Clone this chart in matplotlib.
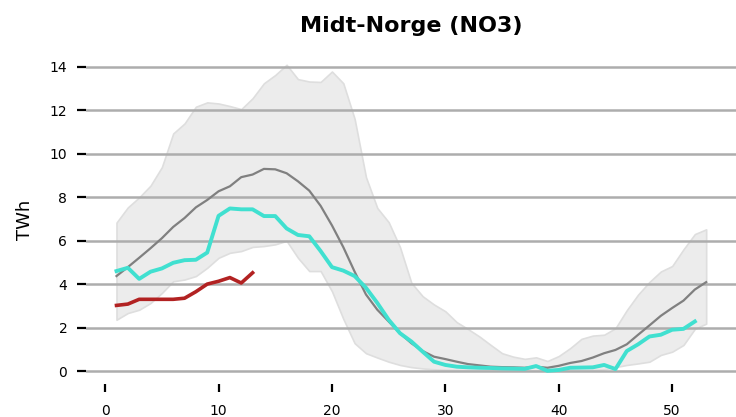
import numpy as np
import matplotlib
matplotlib.use("Agg")
import matplotlib.pyplot as plt

# week numbers
weeks = np.arange(1, 54)

# historic range (min / max) and median, TWh
band_low = [2.36, 2.67, 2.82, 3.13, 3.59, 4.13, 4.21, 4.37, 4.75, 5.21,
            5.44, 5.52, 5.71, 5.75, 5.83, 5.99, 5.21, 4.60, 4.60, 3.67,
            2.40, 1.28, 0.82, 0.62, 0.43, 0.28, 0.18, 0.12, 0.08, 0.06,
            0.05, 0.04, 0.03, 0.03, 0.02, 0.02, 0.02, 0.02, 0.02, 0.03,
            0.03, 0.04, 0.05, 0.08, 0.18, 0.28, 0.35, 0.43, 0.74, 0.89,
            1.20, 1.94, 2.18]
band_high = [6.83, 7.53, 7.99, 8.53, 9.38, 10.93, 11.39, 12.16, 12.36, 12.31,
             12.19, 12.05, 12.55, 13.24, 13.62, 14.09, 13.43, 13.32, 13.30, 13.78,
             13.24, 11.60, 8.92, 7.50, 6.85, 5.70, 4.06, 3.44, 3.06, 2.75,
             2.25, 1.93, 1.59, 1.20, 0.82, 0.66, 0.56, 0.63, 0.46, 0.69,
             1.05, 1.48, 1.63, 1.67, 1.97, 2.80, 3.52, 4.10, 4.58, 4.83,
             5.60, 6.30, 6.52]
median = [4.37, 4.78, 5.21, 5.65, 6.11, 6.63, 7.04, 7.53, 7.87, 8.27,
          8.50, 8.92, 9.04, 9.30, 9.28, 9.10, 8.73, 8.30, 7.60, 6.70,
          5.70, 4.57, 3.52, 2.82, 2.28, 1.74, 1.28, 0.92, 0.66, 0.55,
          0.43, 0.32, 0.26, 0.20, 0.18, 0.17, 0.15, 0.20, 0.15, 0.24,
          0.37, 0.46, 0.62, 0.82, 0.97, 1.23, 1.67, 2.10, 2.54, 2.90,
          3.24, 3.75, 4.09]

# last year
weeks_prev = np.arange(1, 53)
prev_year = [4.60, 4.75, 4.24, 4.57, 4.72, 4.98, 5.10, 5.12, 5.45, 7.14,
             7.48, 7.44, 7.44, 7.13, 7.13, 6.56, 6.26, 6.20, 5.52, 4.78,
             4.62, 4.37, 3.83, 3.13, 2.36, 1.74, 1.36, 0.89, 0.43, 0.28,
             0.20, 0.17, 0.15, 0.14, 0.12, 0.11, 0.10, 0.23, 0.01, 0.05,
             0.15, 0.16, 0.17, 0.28, 0.09, 0.92, 1.23, 1.59, 1.67, 1.90,
             1.94, 2.28]

# this year
weeks_cur = np.arange(1, 14)
cur_year = [3.02, 3.08, 3.30, 3.30, 3.30, 3.30, 3.35, 3.65, 4.00, 4.13,
            4.30, 4.05, 4.52]

fig = plt.figure(figsize=(7.36, 4.17), dpi=100)
ax = fig.add_axes([0.117, 0.08, 0.883, 0.786])

ax.fill_between(weeks, band_low, band_high, facecolor='#ececec',
                edgecolor='#dedede', linewidth=1.2, zorder=0)
ax.plot(weeks, median, color='#808080', linewidth=1.6, zorder=3)
ax.plot(weeks_prev, prev_year, color='#40E0D0', linewidth=2.8, zorder=4)
ax.plot(weeks_cur, cur_year, color='#B22222', linewidth=2.6, zorder=5)

ax.set_xlim(-1.68, 55.63)
ax.set_ylim(-0.58, 14.5)
ax.set_yticks(np.arange(0, 15, 2))
ax.set_xticks([0, 10, 20, 30, 40, 50])

ax.set_axisbelow(True)
ax.grid(axis='y', color='#adadad', linewidth=1.8)
for s in ax.spines.values():
    s.set_visible(False)

ax.tick_params(axis='y', length=6.5, width=1.6, pad=7, labelsize=10)
ax.tick_params(axis='x', length=6, width=1.6, pad=9, labelsize=10)

ax.set_ylabel('TWh', fontsize=13, labelpad=11)
ax.set_title('Midt-Norge (NO3)', fontsize=16, fontweight='bold', pad=17)

fig.savefig('out.png', dpi=100)
